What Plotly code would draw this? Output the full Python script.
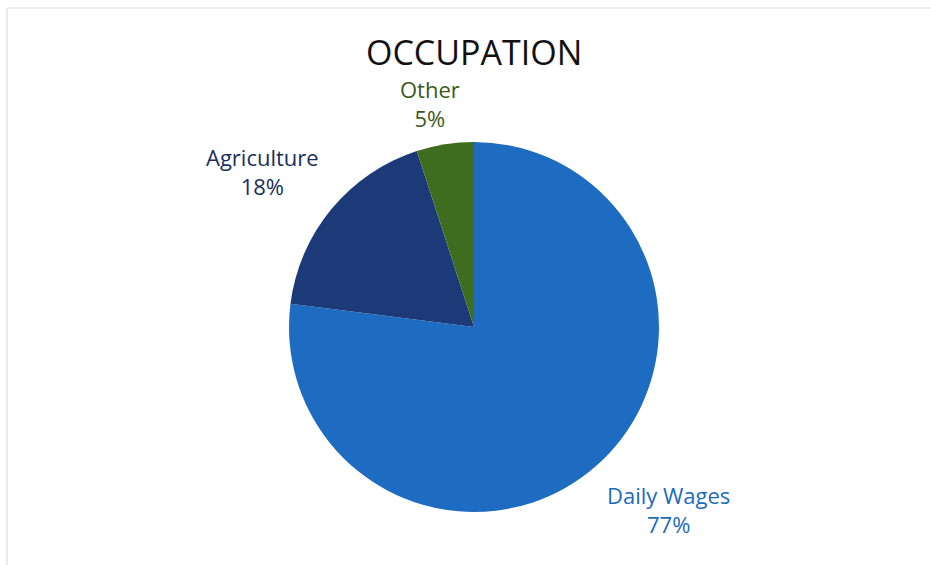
import plotly.graph_objects as go

# Occupation breakdown (percent)
categories = ["Daily Wages", "Agriculture", "Other"]
shares = [77, 18, 5]
slice_colors = ["#1e6cc2", "#1c3a78", "#3e6d1f"]
label_colors = ["#1a6cc0", "#1b2f5e", "#3a5a1c"]

W, H = 931, 565
cx, cy, r = 474, 327, 185  # pie centre and radius in pixels

fig = go.Figure(
    go.Pie(
        labels=categories,
        values=shares,
        sort=False,
        direction="clockwise",
        rotation=0,
        marker=dict(colors=slice_colors, line=dict(width=0)),
        textinfo="none",
        hoverinfo="label+percent",
        showlegend=False,
        domain=dict(
            x=[(cx - r) / W, (cx + r) / W],
            y=[(H - cy - r) / H, (H - cy + r) / H],
        ),
    )
)

# Outside data labels: name on the first line, share on the second
label_pos = {
    "Daily Wages": (668, 509),
    "Agriculture": (262, 172),
    "Other": (430, 103),
}
annotations = []
for name, val, col in zip(categories, shares, label_colors):
    px, py = label_pos[name]
    annotations.append(
        dict(
            x=px / W,
            y=1 - py / H,
            xref="paper",
            yref="paper",
            text=f"{name}<br>{val}%",
            showarrow=False,
            xanchor="center",
            yanchor="middle",
            align="center",
            borderpad=0,
            font=dict(family="Open Sans", size=22, color=col),
        )
    )

annotations.append(
    dict(
        x=cx / W,
        y=1 - 52 / H,
        xref="paper",
        yref="paper",
        text="OCCUPATION",
        showarrow=False,
        xanchor="center",
        yanchor="middle",
        borderpad=0,
        font=dict(family="Open Sans", size=34, color="#111111"),
    )
)

fig.update_layout(
    width=W,
    height=H,
    margin=dict(l=0, r=0, t=0, b=0),
    paper_bgcolor="white",
    plot_bgcolor="white",
    annotations=annotations,
    shapes=[
        dict(type="line", xref="paper", yref="paper",
             x0=7 / W, x1=7 / W, y0=0, y1=1 - 8 / H,
             line=dict(color="#e6e0e2", width=1.5)),
        dict(type="line", xref="paper", yref="paper",
             x0=7 / W, x1=1, y0=1 - 8 / H, y1=1 - 8 / H,
             line=dict(color="#ece8ea", width=1.5)),
    ],
)

fig.write_html("out.html")
